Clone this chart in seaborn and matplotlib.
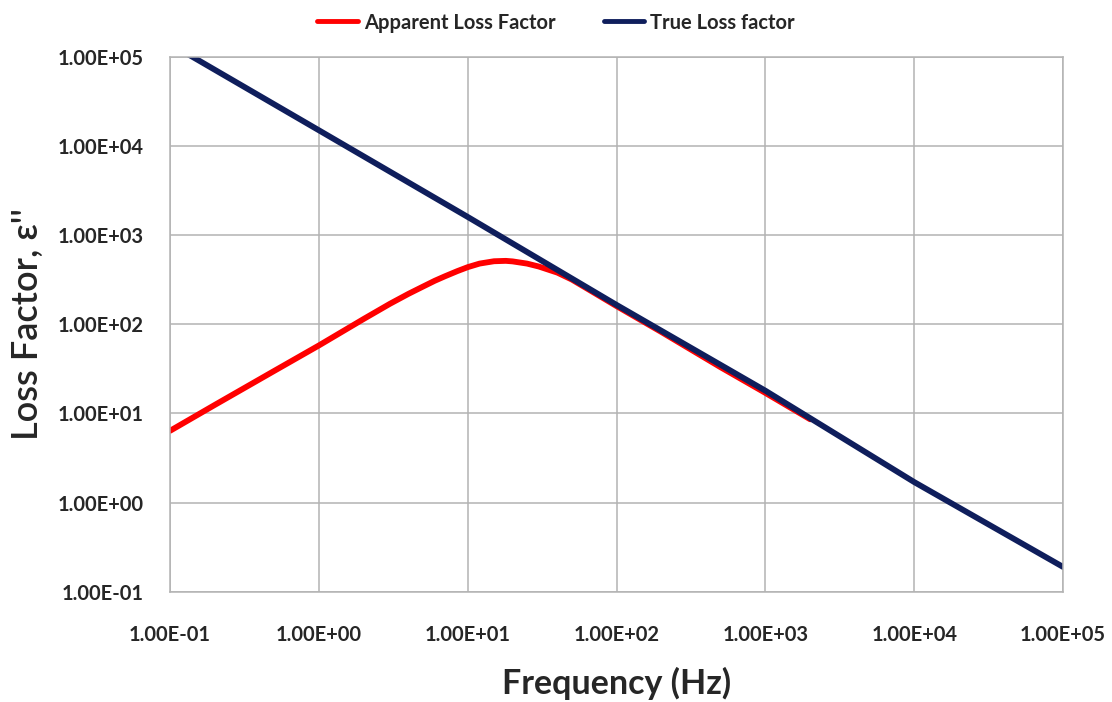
import numpy as np
import pandas as pd
import matplotlib
matplotlib.use("Agg")
import matplotlib.pyplot as plt
import seaborn as sns
from matplotlib.ticker import FuncFormatter, NullLocator
from matplotlib.lines import Line2D

sns.set_style("white")
plt.rcParams['font.family'] = ['Lato', 'DejaVu Sans']

# values (log-log)
apparent_freq = [0.1, 0.2, 0.5, 1, 2, 3, 4, 5, 6, 7, 8.5, 10, 12, 15, 18, 20, 25, 30, 40,
                 50, 70, 100, 200, 500, 1000, 2000]
apparent_loss = [6.4, 12.5, 30, 58, 115, 170, 220, 265, 308, 345, 395, 438, 480, 510, 515,
                 508, 480, 445, 380, 318, 228, 160, 82, 33, 17, 8.6]

true_freq = [0.1, 1, 10, 100, 1000, 10000, 100000]
true_loss = [140000, 15000, 1600, 165, 18, 1.7, 0.19]

x_ticks = [0.1, 1, 10, 100, 1000, 10000, 100000]
y_ticks = [0.1, 1, 10, 100, 1000, 10000, 100000]

df_app = pd.DataFrame({'freq': apparent_freq, 'loss': apparent_loss})
df_true = pd.DataFrame({'freq': true_freq, 'loss': true_loss})

red = '#ff0000'
navy = '#0f1e5c'

fig = plt.figure(figsize=(11.12, 7.02), dpi=100)
ax = fig.add_axes([0.153, 0.157, 0.803, 0.762])

sns.lineplot(data=df_app, x='freq', y='loss', color=red, linewidth=4.2, ax=ax)
sns.lineplot(data=df_true, x='freq', y='loss', color=navy, linewidth=4.2, ax=ax)

ax.set_xscale('log')
ax.set_yscale('log')
ax.set_xlim(0.1, 100000)
ax.set_ylim(0.1, 100000)
ax.set_xticks(x_ticks)
ax.set_yticks(y_ticks)
ax.xaxis.set_minor_locator(NullLocator())
ax.yaxis.set_minor_locator(NullLocator())
fmt = FuncFormatter(lambda v, p: f"{v:.2E}")
ax.xaxis.set_major_formatter(fmt)
ax.yaxis.set_major_formatter(fmt)

ax.grid(True, color='#b3b3b3', linewidth=1.1)
for s in ax.spines.values():
    s.set_color('#b3b3b3')
    s.set_linewidth(1.1)
ax.tick_params(axis='both', which='major', direction='out', length=8, width=1.1,
               color='#b3b3b3', labelsize=14.5, pad=11)
ax.tick_params(axis='x', pad=16)
for lab in ax.get_xticklabels() + ax.get_yticklabels():
    lab.set_fontweight('bold')

ax.set_xlabel('Frequency (Hz)', fontsize=24.5, fontweight='bold', labelpad=16)
ax.set_ylabel("Loss Factor, ε''", fontsize=26, fontweight='semibold', labelpad=10)

handles = [Line2D([0], [0], color=red, linewidth=3.5),
           Line2D([0], [0], color=navy, linewidth=3.5)]
fig.legend(handles, ['Apparent Loss Factor', 'True Loss factor'], loc='upper center',
           bbox_to_anchor=(0.5, 1.008), ncol=2, frameon=False, handlelength=2.0,
           columnspacing=2.4, handletextpad=0.3, prop={'size': 14.5, 'weight': 'bold'})

fig.savefig('out.png', dpi=100)
